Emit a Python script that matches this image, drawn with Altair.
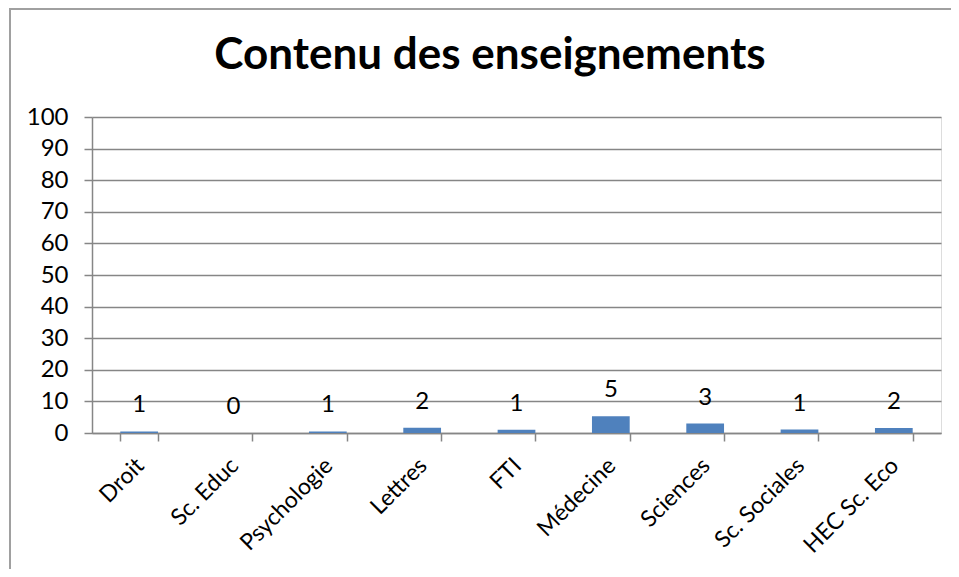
import altair as alt
import pandas as pd

TITLE = "Contenu des enseignements"
categories = ["Droit", "Sc. Educ", "Psychologie", "Lettres", "FTI", "Médecine", "Sciences", "Sc. Sociales", "HEC Sc. Eco"]
values = [0.5, 0.0, 0.5, 1.7, 1.0, 5.3, 3.0, 1.1, 1.6]
labels = ["1", "0", "1", "2", "1", "5", "3", "1", "2"]
y_ticks = [0, 10, 20, 30, 40, 50, 60, 70, 80, 90, 100]

df = pd.DataFrame({"cat": categories, "val": values, "lab": labels})

FONT = "Lato"
GRAY = "#868686"
FS = 24

x_enc = alt.X(
    "cat:N",
    sort=categories,
    scale=alt.Scale(paddingInner=0.6, paddingOuter=0.3),
    axis=alt.Axis(
        title=None,
        labelAngle=-45,
        labelAlign="right",
        labelBaseline="top",
        labelFont=FONT,
        labelFontSize=23,
        labelColor="#000000",
        labelPadding=13,
        labelOffset=-7,
        labelOverlap=False,
        tickBand="extent",
        tickSize=8,
        tickColor=GRAY,
        domainColor=GRAY,
        tickWidth=1.5,
        domainWidth=1.5,
        grid=False,
    ),
)

y_enc = alt.Y(
    "val:Q",
    scale=alt.Scale(domain=[0, 100], nice=False),
    axis=alt.Axis(
        title=None,
        values=y_ticks,
        tickCount=11,
        labelFont=FONT,
        labelFontSize=FS,
        labelColor="#000000",
        labelPadding=16,
        labelOverlap=False,
        tickSize=8,
        tickColor=GRAY,
        domainColor=GRAY,
        gridColor=GRAY,
        tickWidth=1.5,
        domainWidth=1.5,
        gridWidth=1.5,
    ),
)

base = alt.Chart(df).encode(x=x_enc, y=y_enc)
bars = base.mark_bar(color="#4F81BD")
text = base.mark_text(font=FONT, fontSize=FS, color="#000000", baseline="middle", dy=-26).encode(text="lab:N")

title_df = pd.DataFrame({"t": [TITLE]})
title = alt.Chart(title_df).mark_text(
    font=FONT, fontSize=44, fontWeight="bold", color="#000000", align="center", baseline="alphabetic"
).encode(text="t:N", x=alt.value(398), y=alt.value(-48))

dummy = pd.DataFrame({"a": [0]})
left_border = alt.Chart(dummy).mark_rule(color="#a0a0a0", strokeWidth=2).encode(
    x=alt.value(-82), y=alt.value(-108), y2=alt.value(452)
)
top_border = alt.Chart(dummy).mark_rule(color="#a0a0a0", strokeWidth=2).encode(
    x=alt.value(-83), x2=alt.value(870), y=alt.value(-108)
)

chart = alt.layer(bars, text, title, left_border, top_border).properties(
    width=849,
    height=316,
    padding={"left": 84, "top": 109, "right": 10, "bottom": 136},
    autosize=alt.AutoSizeParams(type="none"),
).configure_view(strokeWidth=0).configure(background="white")

chart.save("out.html", embed_options={"renderer": "svg", "actions": False})
